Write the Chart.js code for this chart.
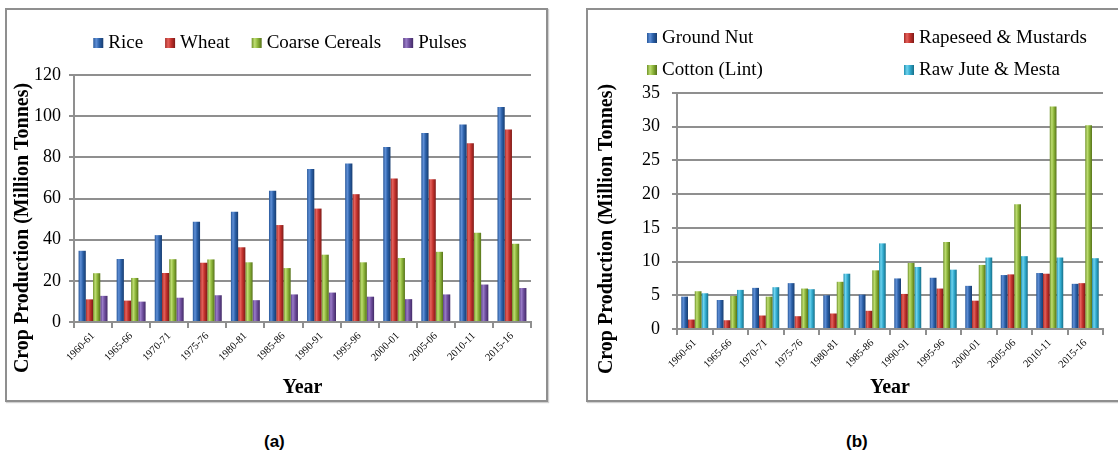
<!DOCTYPE html>
<html>
<head>
<meta charset="utf-8">
<script src="https://cdn.jsdelivr.net/npm/chart.js@4.4.1/dist/chart.umd.min.js"></script>
<style>
  body { margin: 0; background: #fff; width: 1118px; height: 462px; overflow: hidden; position: relative; }
  .box { position: absolute; top: 8px; height: 394px; border: 2px solid #8f8f8f; box-sizing: border-box; box-shadow: 1px 1px 1px #d0d0d0; }
  .box canvas { position: absolute; left: 0; top: 0; }
  .cap { position: absolute; top: 432px; font: bold 17px "Liberation Sans", Arial, sans-serif; color: #000; }
</style>
</head>
<body>
<div class="box" style="left:5px; width:543px;"><canvas id="chartA" width="539" height="390"></canvas></div>
<div class="box" style="left:586px; width:544px;"><canvas id="chartB" width="540" height="390"></canvas></div>
<div class="cap" style="left:264px;">(a)</div>
<div class="cap" style="left:846px;">(b)</div>
<script>
// data
const years = ['1960-61', '1965-66', '1970-71', '1975-76', '1980-81', '1985-86',
               '1990-91', '1995-96', '2000-01', '2005-06', '2010-11', '2015-16'];

const rice   = [34.6, 30.6, 42.2, 48.7, 53.6, 63.8, 74.3, 77.0, 85.0, 91.8, 96.0, 104.4];
const wheat  = [11.0, 10.4, 23.8, 28.8, 36.3, 47.1, 55.1, 62.1, 69.7, 69.4, 86.9, 93.5];
const coarse = [23.7, 21.4, 30.5, 30.4, 29.0, 26.2, 32.7, 29.0, 31.1, 34.1, 43.4, 38.0];
const pulses = [12.7, 9.9, 11.8, 13.0, 10.6, 13.4, 14.3, 12.3, 11.1, 13.4, 18.2, 16.5];

const groundNut = [4.8, 4.3, 6.1, 6.8, 5.0, 5.1, 7.5, 7.6, 6.4, 8.0, 8.3, 6.7];
const rapeseed  = [1.4, 1.3, 2.0, 1.9, 2.3, 2.7, 5.2, 6.0, 4.2, 8.1, 8.2, 6.8];
const cotton    = [5.6, 4.9, 4.8, 6.0, 7.0, 8.7, 9.8, 12.9, 9.5, 18.5, 33.0, 30.2];
const jute      = [5.3, 5.8, 6.2, 5.9, 8.2, 12.7, 9.2, 8.8, 10.6, 10.8, 10.6, 10.5];

const yTicksA = [0, 20, 40, 60, 80, 100, 120];
const yTicksB = [0, 5, 10, 15, 20, 25, 30, 35];

const yTitle = 'Crop Production (Million Tonnes)';

// cylinder-ish shading: edge, highlight, body, dark edge
const shades = {
  blue:   ['#275799', '#5f8fd6', '#2b60a8', '#183d70'],
  red:    ['#a52a26', '#e4625c', '#c3322d', '#7d1a17'],
  green:  ['#6f9228', '#bedd72', '#8db63a', '#567219'],
  purple: ['#5a3d85', '#9a7dc8', '#6f4f9e', '#422a66'],
  teal:   ['#2290b0', '#6fd3ee', '#32acd0', '#176f88'],
};

const serif = '"Liberation Serif", "Times New Roman", serif';

function gradFor(ctx, x0, x1, s) {
  const g = ctx.createLinearGradient(x0, 0, x1, 0);
  g.addColorStop(0, s[0]);
  g.addColorStop(0.3, s[1]);
  g.addColorStop(0.6, s[2]);
  g.addColorStop(1, s[3]);
  return g;
}

const shadeBars = {
  id: 'shadeBars',
  beforeDatasetsDraw(chart) {
    const c = chart.ctx;
    chart.data.datasets.forEach((ds, i) => {
      chart.getDatasetMeta(i).data.forEach(bar => {
        const g = gradFor(c, bar.x - bar.width / 2, bar.x + bar.width / 2, ds.shade);
        bar.options = Object.assign({}, bar.options, { backgroundColor: g });
      });
    });
  }
};

// Excel style legend: either one centred row or a fixed grid
const boxLegend = {
  id: 'boxLegend',
  afterDraw(chart, args, opts) {
    const c = chart.ctx;
    c.save();
    c.font = '19px ' + serif;
    c.textBaseline = 'middle';
    const sets = chart.data.datasets;
    const pos = [];
    if (opts.cols) {
      sets.forEach((ds, i) => {
        pos.push([opts.cols[i % opts.cols.length], opts.rows[Math.floor(i / opts.cols.length)]]);
      });
    } else {
      const widths = sets.map(ds => 15 + c.measureText(ds.label).width);
      const total = widths.reduce((a, b) => a + b, 0) + opts.gap * (sets.length - 1);
      let x = opts.center - total / 2;
      widths.forEach(w => { pos.push([x, opts.rows[0]]); x += w + opts.gap; });
    }
    sets.forEach((ds, i) => {
      const [x, y] = pos[i];
      c.fillStyle = gradFor(c, x, x + 10, ds.shade);
      c.fillRect(x, y - 5, 10, 10);
      c.fillStyle = '#000';
      c.fillText(ds.label, x + 15, y);
    });

    // value axis title, centred on plot + tick labels like Excel does
    const t = opts.title;
    c.translate(t.x, t.y);
    c.rotate(-Math.PI / 2);
    c.font = 'bold 20px ' + serif;
    c.textAlign = 'center';
    c.fillText(t.text, 0, 0);
    c.restore();
  }
};

function makeSet(label, data, shade) {
  return { label, data, shade, backgroundColor: shade[2], borderWidth: 0,
           categoryPercentage: 0.76, barPercentage: 1.0 };
}

function options(ticks, ySize, xSize, pad, tickPad, legend) {
  return {
    responsive: false,
    animation: false,
    layout: { padding: pad },
    plugins: { legend: { display: false }, tooltip: { enabled: false }, boxLegend: legend },
    scales: {
      x: {
        afterFit: s => { s.height = xSize; },
        grid: { drawOnChartArea: false, offset: true, color: '#8f8f8f', lineWidth: 2, tickLength: 6 },
        border: { color: '#8f8f8f', width: 2 },
        ticks: { maxRotation: 45, minRotation: 45, padding: 2, color: '#000', font: { family: serif, size: 10.5 } },
        title: { display: true, text: 'Year', color: '#000', padding: { top: 0, bottom: 0 },
                 font: { family: serif, size: 20, weight: 'bold' } }
      },
      y: {
        min: ticks[0],
        max: ticks[ticks.length - 1],
        afterFit: s => { s.width = ySize; },
        afterBuildTicks: s => { s.ticks = ticks.map(v => ({ value: v })); },
        grid: { color: '#8f8f8f', lineWidth: 2, tickLength: 5 },
        border: { color: '#8f8f8f', width: 2 },
        ticks: { padding: tickPad, color: '#000', font: { family: serif, size: 18 } }
      }
    }
  };
}

new Chart(document.getElementById('chartA'), {
  type: 'bar',
  data: {
    labels: years,
    datasets: [
      makeSet('Rice', rice, shades.blue),
      makeSet('Wheat', wheat, shades.red),
      makeSet('Coarse Cereals', coarse, shades.green),
      makeSet('Pulses', pulses, shades.purple),
    ]
  },
  options: options(yTicksA, 67, 78, { top: 65, right: 15, bottom: 0, left: 0 }, 8,
                   { center: 273, rows: [33], gap: 22, title: { text: yTitle, x: 16, y: 218 } }),
  plugins: [shadeBars, boxLegend]
});

new Chart(document.getElementById('chartB'), {
  type: 'bar',
  data: {
    labels: years,
    datasets: [
      makeSet('Ground Nut', groundNut, shades.blue),
      makeSet('Rapeseed & Mustards', rapeseed, shades.red),
      makeSet('Cotton (Lint)', cotton, shades.green),
      makeSet('Raw Jute & Mesta', jute, shades.teal),
    ]
  },
  options: options(yTicksB, 89, 71, { top: 83, right: 25, bottom: 0, left: 0 }, 12,
                   { cols: [59, 316], rows: [28, 60], title: { text: yTitle, x: 19, y: 219 } }),
  plugins: [shadeBars, boxLegend]
});
</script>
</body>
</html>
